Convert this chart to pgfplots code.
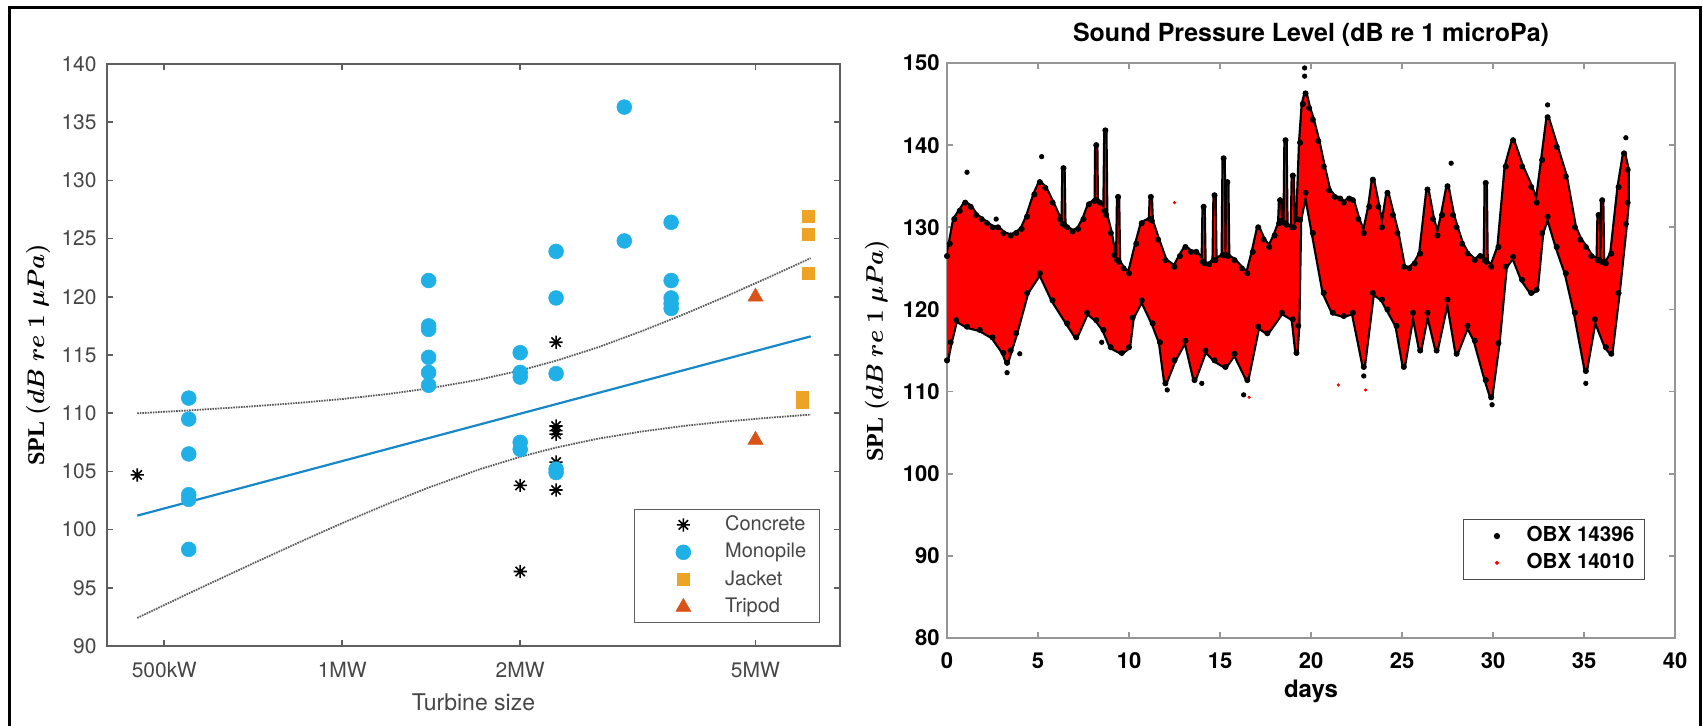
\documentclass[border=0pt]{standalone}
\usepackage{pgfplots}
\pgfplotsset{compat=1.18}
\usepackage{pgfplotstable}
\usepackage{fontspec}
\usepackage{amsmath}
\usepackage{bm}
\setmainfont{TeX Gyre Heros}
\newfontfamily\serifbf{Liberation Serif}

\definecolor{mono}{RGB}{32,176,232}
\definecolor{jacket}{RGB}{237,164,36}
\definecolor{tripod}{RGB}{217,83,25}
\definecolor{fitblue}{RGB}{22,135,200}
\definecolor{axgray}{RGB}{95,95,95}
\definecolor{lblgray}{RGB}{70,70,70}
\definecolor{axlight}{RGB}{150,150,150}

% eight-armed asterisk marker
\pgfdeclareplotmark{ast8}{%
  \pgfpathmoveto{\pgfqpoint{-\pgfplotmarksize}{0pt}}\pgfpathlineto{\pgfqpoint{\pgfplotmarksize}{0pt}}%
  \pgfpathmoveto{\pgfqpoint{0pt}{-\pgfplotmarksize}}\pgfpathlineto{\pgfqpoint{0pt}{\pgfplotmarksize}}%
  \pgfpathmoveto{\pgfqpoint{-0.707\pgfplotmarksize}{-0.707\pgfplotmarksize}}\pgfpathlineto{\pgfqpoint{0.707\pgfplotmarksize}{0.707\pgfplotmarksize}}%
  \pgfpathmoveto{\pgfqpoint{-0.707\pgfplotmarksize}{0.707\pgfplotmarksize}}\pgfpathlineto{\pgfqpoint{0.707\pgfplotmarksize}{-0.707\pgfplotmarksize}}%
  \pgfusepathqstroke}

% legend images: a single mark centred in a wide slot
\pgfplotsset{
  lgleft/.style={legend image code/.code={\path (0pt,-3pt) (38pt,3pt);\draw[mark repeat=2,mark phase=2,##1] plot coordinates {(0pt,0pt) (19pt,0pt) (38pt,0pt)};}},
  lgright/.style={legend image code/.code={\path (0pt,-3pt) (26pt,3pt);\draw[mark repeat=2,mark phase=2,##1] plot coordinates {(0pt,0pt) (13pt,0pt) (26pt,0pt)};}},
}

\newcommand{\spllabel}{{\serifbf\bfseries SPL} $\bm{(dB\ re\ 1\ \mu Pa)}$}

% SPL band: upper envelope (increasing days) followed by lower envelope (decreasing days)
\pgfplotstableread{
day spl
0.00 126.5
0.15 128.0
0.40 131.0
0.70 132.0
1.00 133.0
1.30 132.5
1.60 131.5
1.90 131.0
2.20 130.5
2.50 130.0
2.80 130.0
3.10 129.3
3.50 129.0
3.80 129.3
4.10 129.8
4.40 131.3
4.80 134.0
5.10 135.5
5.40 134.8
5.80 133.0
6.20 131.0
6.35 130.4
6.40 137.2
6.45 130.3
6.60 130.0
6.90 129.5
7.20 129.8
7.50 131.0
7.80 132.8
8.10 133.2
8.17 133.3
8.20 140.0
8.23 133.3
8.40 133.0
8.65 132.0
8.70 141.8
8.75 131.5
9.00 129.3
9.20 126.6
9.35 126.0
9.40 133.7
9.45 125.8
9.70 125.0
10.00 124.4
10.40 128.0
10.70 130.5
11.15 131.0
11.20 133.7
11.25 130.8
11.60 128.5
12.00 126.0
12.50 125.2
12.80 126.5
13.10 127.6
13.40 127.0
13.70 127.0
14.05 125.8
14.10 132.5
14.15 125.6
14.40 125.5
14.65 126.0
14.70 133.9
14.75 126.0
15.15 126.6
15.20 138.4
15.25 126.6
15.35 126.6
15.40 135.5
15.45 126.5
15.80 126.0
16.20 125.0
16.50 124.4
16.80 127.0
17.10 130.0
17.40 128.5
17.70 127.6
18.00 129.0
18.25 130.5
18.30 133.3
18.35 130.8
18.55 130.5
18.60 140.6
18.65 130.3
18.95 130.0
19.00 136.3
19.05 130.0
19.25 131.0
19.40 140.3
19.55 145.0
19.70 146.3
19.90 144.5
20.10 143.1
20.40 140.5
20.70 137.4
21.00 134.5
21.30 133.7
21.60 133.5
21.80 133.0
22.10 133.5
22.30 133.3
22.60 131.0
22.90 129.3
23.20 132.5
23.40 135.8
23.70 132.5
23.90 130.0
24.20 134.2
24.50 131.5
24.75 129.3
25.10 125.2
25.40 125.0
25.70 125.6
26.00 126.8
26.40 134.6
26.70 131.0
26.95 129.0
27.20 131.5
27.50 135.0
27.80 131.5
28.00 130.0
28.30 128.0
28.60 126.8
29.00 126.0
29.30 126.5
29.55 126.0
29.60 135.4
29.65 125.8
29.90 125.2
30.30 127.6
30.70 137.4
31.10 140.6
31.60 137.4
32.10 134.9
32.40 133.0
32.70 138.2
33.00 143.4
33.50 139.8
34.00 136.2
34.50 130.0
34.80 128.5
35.10 127.6
35.40 126.5
35.75 126.0
35.80 131.5
35.85 126.0
35.95 125.8
36.00 133.3
36.05 125.8
36.20 125.6
36.50 126.8
36.90 134.9
37.20 139.0
37.40 137.0
37.40 133.0
37.30 130.4
36.90 122.0
36.50 114.6
36.20 115.4
35.60 118.8
35.10 112.5
34.50 119.6
34.00 124.4
33.50 127.6
33.00 131.3
32.70 129.3
32.40 122.4
32.10 122.0
31.60 123.6
31.10 126.4
30.70 125.2
30.30 115.9
29.90 109.3
29.60 111.4
29.00 116.2
28.60 118.0
28.00 114.6
27.50 121.2
26.90 115.0
26.40 119.6
26.00 115.0
25.60 119.6
25.10 113.0
24.70 118.0
24.20 120.0
23.90 121.2
23.40 122.0
22.90 113.0
22.30 119.6
21.80 119.2
21.20 119.6
20.70 122.0
20.10 129.3
19.70 134.2
19.40 130.9
19.30 118.0
19.20 114.7
19.00 118.8
18.40 119.6
17.60 117.1
17.10 117.9
16.50 111.4
15.80 114.6
15.30 113.0
14.70 113.8
14.20 115.0
13.60 111.4
13.10 116.2
12.50 113.8
12.00 111.0
11.70 116.0
11.30 118.3
10.70 121.1
10.20 119.0
10.00 115.4
9.60 114.7
9.00 115.4
8.60 117.5
8.20 118.7
7.70 119.6
7.10 116.6
6.60 118.3
5.80 121.1
5.10 124.4
4.40 122.0
3.80 117.1
3.50 115.0
3.30 113.5
3.10 114.7
2.50 116.6
1.80 117.5
1.10 117.9
0.50 118.7
0.20 116.0
0.00 113.8
}\splband

\begin{document}
\begin{tikzpicture}
\useasboundingbox (0,0) rectangle (851.5pt,362.5pt);
\draw[line width=1.5pt] (4.5pt,-3pt) -- (4.5pt,358.5pt) -- (850pt,358.5pt) -- (850pt,-3pt);

% ---------------- left: SPL against turbine size ----------------
\begin{axis}[
  at={(53.5pt,39.5pt)}, anchor=south west,
  scale only axis, width=366.5pt, height=291pt,
  xmode=log, xmin=0.4, xmax=6.95, ymin=90, ymax=140,
  xtick={0.5,1,2,5}, xticklabels={500kW,1MW,2MW,5MW},
  xminorticks=false,
  ytick={90,95,...,140},
  axis line style={axgray, line width=0.9pt},
  tick style={axgray, line width=0.8pt},
  major tick length=3pt,
  /pgf/number format/assume math mode=true,
  tick label style={lblgray, font=\fontsize{10.5}{12}\selectfont},
  xticklabel style={anchor=base, yshift=-15.5pt},
  yticklabel style={anchor=east, inner sep=0pt, xshift=-5pt},
  xlabel={Turbine size},
  xlabel style={lblgray, font=\fontsize{11.5}{13}\selectfont, at={(axis description cs:0.5,0)}, anchor=base, yshift=-32pt},
  ylabel={\spllabel},
  ylabel style={black, font=\fontsize{12}{14}\selectfont, at={(axis description cs:-0.094,0.5)}, anchor=center},
  legend style={at={(0.9727,0.0395)}, anchor=south east, draw=axgray, line width=0.7pt,
    text=lblgray, font=\fontsize{10}{12}\selectfont, inner xsep=5pt, inner ysep=1.5pt, row sep=1.5pt,
    nodes={inner sep=1.5pt, text height=7.4pt, text depth=1.8pt}},
  legend cell align=left,
]
% regression line and its confidence bounds
\addplot[fitblue, line width=1.1pt, forget plot] coordinates {(0.45,101.2) (6.2,116.6)};
\addplot[black!65, line width=0.9pt, dash pattern=on 0.8pt off 0.5pt, forget plot] coordinates {
  (0.45,109.99) (0.55,110.24) (0.7,110.58) (0.85,110.90) (1.0,111.22) (1.2,111.66) (1.4,112.13)
  (1.7,112.87) (2.0,113.67) (2.3,114.51) (2.7,115.64) (3.2,117.02) (3.8,118.54) (4.5,120.13)
  (5.3,121.74) (6.2,123.32)};
\addplot[black!65, line width=0.9pt, dash pattern=on 0.8pt off 0.5pt, forget plot] coordinates {
  (0.45,92.41) (0.55,94.52) (0.7,97.00) (0.85,98.96) (1.0,100.56) (1.2,102.26) (1.4,103.61)
  (1.7,105.15) (2.0,106.25) (2.3,107.05) (2.7,107.80) (3.2,108.42) (3.8,108.92) (4.5,109.31)
  (5.3,109.62) (6.2,109.88)};

\addplot[only marks, lgleft, mark=ast8, mark size=3.3pt, black, line width=0.8pt] coordinates {
  (0.45,104.7) (2,103.8) (2,96.4) (2.3,116.1) (2.3,108.9) (2.3,108.5) (2.3,108.2) (2.3,105.8) (2.3,103.4)};
\addlegendentry{Concrete}
\addplot[only marks, lgleft, mark=*, mark size=3.7pt, mono, line width=0.3pt] coordinates {
  (0.55,111.3) (0.55,109.5) (0.55,106.5) (0.55,103.0) (0.55,102.6) (0.55,98.3)
  (1.4,121.4) (1.4,117.5) (1.4,117.2) (1.4,114.8) (1.4,113.5) (1.4,112.4)
  (2,115.2) (2,113.5) (2,113.1) (2,107.5) (2,106.9)
  (2.3,123.9) (2.3,119.9) (2.3,113.4) (2.3,105.2) (2.3,104.9)
  (3.0,136.3) (3.0,124.8)
  (3.6,126.4) (3.6,121.4) (3.6,119.9) (3.6,119.4) (3.6,119.0)};
\addlegendentry{Monopile}
\addplot[only marks, lgleft, mark=square*, mark size=3pt, jacket, line width=0.3pt] coordinates {
  (6.15,126.9) (6.15,125.4) (6.15,122.0) (6.0,111.4) (6.0,110.9)};
\addlegendentry{Jacket}
\addplot[only marks, lgleft, mark=triangle*, mark size=4.3pt, tripod, line width=0.3pt] coordinates {
  (5,120.0) (5,107.7)};
\addlegendentry{Tripod}
\end{axis}

% ---------------- right: SPL time series ----------------
\begin{axis}[
  at={(473.5pt,43.5pt)}, anchor=south west,
  scale only axis, width=364pt, height=287.5pt,
  xmin=0, xmax=40, ymin=80, ymax=150,
  xtick={0,5,...,40}, ytick={80,90,...,150},
  axis line style={axlight, line width=0.9pt},
  tick style={axlight, line width=0.8pt},
  major tick length=2.8pt,
  /pgf/number format/assume math mode=true,
  tick label style={black, font=\bfseries\fontsize{11}{13}\selectfont},
  xticklabel style={anchor=base, yshift=-15pt},
  yticklabel style={anchor=east, inner sep=0pt, xshift=-3.5pt},
  title={Sound Pressure Level (dB re 1 microPa)},
  title style={font=\bfseries\fontsize{12.5}{15}\selectfont, at={(axis description cs:0.5,1)}, anchor=base, yshift=5pt},
  xlabel={days},
  xlabel style={font=\bfseries\fontsize{12}{14}\selectfont, at={(axis description cs:0.5,0)}, anchor=base, yshift=-29.5pt},
  ylabel={\spllabel},
  ylabel style={black, font=\fontsize{12}{14}\selectfont, at={(axis description cs:-0.0962,0.5)}, anchor=center},
  legend style={at={(0.9588,0.1009)}, anchor=south east, draw=black!70, line width=0.7pt,
    font=\bfseries\fontsize{10.3}{12}\selectfont, inner xsep=3.5pt, inner ysep=2pt, row sep=1pt,
    nodes={inner sep=1.5pt, text height=7.6pt, text depth=1.8pt}},
  legend cell align=left,
]
\addlegendimage{only marks, lgright, mark=*, mark size=1.2pt, black}
\addlegendentry{OBX 14396}
\addlegendimage{only marks, lgright, mark=*, mark size=0.6pt, red}
\addlegendentry{OBX 14010}

% OBX 14396 rim (line plus dots at the envelope points), then OBX 14010 band on top
\addplot[black, line width=2.2pt, line join=round, forget plot] table[x=day, y=spl] {\splband};
\addplot[only marks, mark=*, mark size=1.3pt, black, forget plot] table[x=day, y=spl] {\splband};
\addplot[fill=red, draw=none, forget plot] table[x=day, y=spl] {\splband};
\addplot[only marks, mark=*, mark size=1.1pt, black, forget plot] coordinates {
  (1.1,136.7) (5.2,138.6) (19.65,149.4) (19.65,148.4) (33.0,144.9) (37.3,140.9) (27.7,137.8)
  (16.3,109.6) (29.95,108.4) (3.3,112.3) (12.1,110.2) (22.9,111.9) (35.1,111.0) (2.7,131.0)
  (4.0,114.6) (14.0,111.0) (8.5,116.0)};
\addplot[only marks, mark=*, mark size=0.6pt, red, forget plot] coordinates {
  (23.0,110.2) (16.6,109.3) (21.5,110.8) (12.5,133.0)};
\end{axis}
\end{tikzpicture}
\end{document}
